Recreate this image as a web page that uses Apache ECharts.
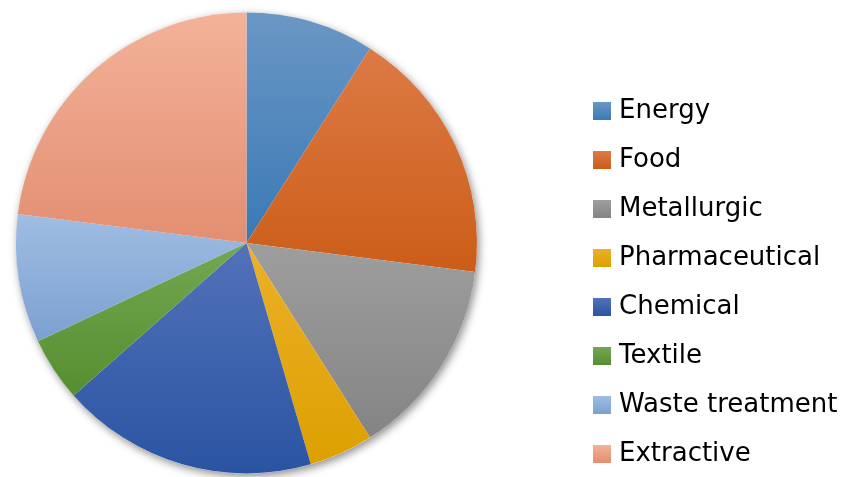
<!DOCTYPE html>
<html>
<head>
<meta charset="utf-8">
<script src="https://cdn.jsdelivr.net/npm/echarts@6/dist/echarts.min.js"></script>
<style>html,body{margin:0;padding:0;background:#fff}#c{width:846px;height:477px}</style>
</head>
<body>
<div id="c"></div>
<script>
var categories = ['Energy','Food','Metallurgic','Pharmaceutical','Chemical','Textile','Waste treatment','Extractive'];
var values = [9, 18, 14, 4.5, 18, 4.5, 9, 23];
var topColors = ['#6A97C5','#DC7A45','#9E9E9E','#EBB02A','#5272B9','#74A752','#A0BDE3','#F3B299'];
var bottomColors = ['#3A79B5','#CC5D18','#848484','#DDA000','#2A54A2','#558E2F','#7BA0D0','#E38E71'];

function grad(i){
  return new echarts.graphic.LinearGradient(0,0,0,1,[{offset:0,color:topColors[i]},{offset:1,color:bottomColors[i]}]);
}
var data = categories.map(function(n,i){return {name:n,value:values[i],itemStyle:{color:grad(i)}};});

var chart = echarts.init(document.getElementById('c'));
chart.setOption({
  backgroundColor:'#fff',
  animation:false,
  legend:{
    data:categories,
    orient:'vertical',
    left:593, top:98, height:440,
    itemWidth:18, itemHeight:18, itemGap:23,
    icon:'rect',
    textStyle:{fontFamily:'DejaVu Sans',fontSize:26,color:'#000',padding:[0,0,0,3]},
    padding:0
  },
  series:[
    {type:'pie', silent:true, radius:230.5, center:[246.5,243], label:{show:false}, labelLine:{show:false},
     data:[{name:'_bg',value:1,itemStyle:{color:'#fff',shadowBlur:8,shadowOffsetX:2,shadowOffsetY:3,shadowColor:'rgba(0,0,0,0.45)'}}],
     z:1},
    {type:'pie', radius:230.5, center:[246.5,243], startAngle:90, clockwise:true,
     label:{show:false}, labelLine:{show:false}, itemStyle:{borderWidth:0},
     emphasis:{disabled:true}, data:data, z:2}
  ]
});
</script>
</body>
</html>
